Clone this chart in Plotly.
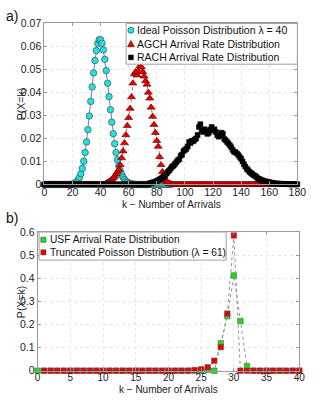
import plotly.graph_objects as go

# ---------------- data ----------------
# Panel a)
poisson40_k = list(range(0, 91))
poisson40_p = [0.0] * 20 + [
    0.0002, 0.0004, 0.0007, 0.0012, 0.0019, 0.0031, 0.0047, 0.0070, 0.0101, 0.0139,  # 20-29
    0.0185, 0.0238, 0.0298, 0.0361, 0.0424, 0.0485, 0.0539, 0.0582, 0.0613, 0.0629,  # 30-39
    0.0629, 0.0614, 0.0585, 0.0544, 0.0495, 0.0440, 0.0382, 0.0325, 0.0271, 0.0221,  # 40-49
    0.0177, 0.0139, 0.0107, 0.0081, 0.0060, 0.0043, 0.0031, 0.0022, 0.0015, 0.0010,  # 50-59
    0.0007, 0.0004, 0.0003, 0.0002, 0.0001,                                          # 60-64
] + [0.0] * 26

agch_k = list(range(0, 164))
agch_p = [0.0] * 44 + [
    0.0005, 0.0008, 0.0012, 0.0016, 0.0022, 0.0028,                                  # 44-49
    0.0035, 0.0045, 0.0055, 0.0065, 0.0085, 0.0115, 0.0145, 0.0180, 0.0215, 0.0255,  # 50-59
    0.0290, 0.0330, 0.0380, 0.0440, 0.0480, 0.0490, 0.0475, 0.0490, 0.0515, 0.0510,  # 60-69
    0.0490, 0.0470, 0.0450, 0.0435, 0.0400, 0.0375, 0.0335, 0.0295, 0.0260, 0.0225,  # 70-79
    0.0190, 0.0165, 0.0120, 0.0085, 0.0055, 0.0035, 0.0020, 0.0012, 0.0007, 0.0004,  # 80-89
    0.0002,                                                                          # 90
] + [0.0] * 73

rach_k = list(range(0, 181))
rach_p = [0.0] * 75 + [
    0.0005, 0.0007, 0.0008, 0.0010, 0.0012,                                          # 75-79
    0.0015, 0.0018, 0.0022, 0.0026, 0.0030, 0.0035, 0.0040, 0.0048, 0.0056, 0.0062,  # 80-89
    0.0070, 0.0078, 0.0082, 0.0090, 0.0098, 0.0105, 0.0110, 0.0125, 0.0130, 0.0145,  # 90-99
    0.0150, 0.0155, 0.0165, 0.0185, 0.0180, 0.0190, 0.0188, 0.0195, 0.0200, 0.0215,  # 100-109
    0.0250, 0.0262, 0.0235, 0.0228, 0.0240, 0.0232, 0.0220, 0.0225, 0.0238, 0.0250,  # 110-119
    0.0235, 0.0240, 0.0228, 0.0215, 0.0208, 0.0215, 0.0225, 0.0220, 0.0198, 0.0192,  # 120-129
    0.0185, 0.0178, 0.0170, 0.0162, 0.0150, 0.0142, 0.0140, 0.0135, 0.0128, 0.0120,  # 130-139
    0.0112, 0.0100, 0.0088, 0.0078, 0.0068, 0.0062, 0.0055, 0.0050, 0.0045, 0.0040,  # 140-149
    0.0037, 0.0032, 0.0026, 0.0024, 0.0020, 0.0018, 0.0016, 0.0014, 0.0012, 0.0011,  # 150-159
    0.0010, 0.0008, 0.0007, 0.0005, 0.0005, 0.0004, 0.0004, 0.0003, 0.0003, 0.0003,  # 160-169
    0.0002, 0.0002, 0.0002, 0.0002, 0.0001, 0.0001, 0.0001, 0.0001, 0.0001, 0.0001,  # 170-179
    0.0001,                                                                          # 180
]

# Panel b)
usf_k = list(range(0, 41))
usf_p = [0.0] * 26 + [0.004, 0.0, 0.119, 0.236, 0.412, 0.215, 0.020] + [0.0] * 8

trunc_k = list(range(1, 41))
trunc_p = [0.0] * 23 + [0.003, 0.006, 0.015, 0.043, 0.102, 0.247, 0.585] + [0.0] * 10

names_top = ["Ideal Poisson Distribution λ = 40",
             "AGCH Arrival Rate Distribution",
             "RACH Arrival Rate Distribution"]
names_bot = ["USF Arrival Rate Distribution",
             "Truncated Poisson Distribution (λ = 61)"]

top_xticks = list(range(0, 181, 20))
top_yticks = [0, 0.01, 0.02, 0.03, 0.04, 0.05, 0.06, 0.07]
top_yticklabels = ["0", "0.01", "0.02", "0.03", "0.04", "0.05", "0.06", "0.07"]
bot_xticks = list(range(0, 41, 5))
bot_yticks = [0, 0.1, 0.2, 0.3, 0.4, 0.5, 0.6]
bot_yticklabels = ["0", "0.1", "0.2", "0.3", "0.4", "0.5", "0.6"]

# ---------------- styling / layout ----------------
W, H = 315, 400
FONT = "Liberation Sans, Arial, Helvetica, sans-serif"
CYAN = "#1fe3e3"
RED = "#e60000"
GREEN = "#14e014"


def px(x):
    return x / W


def py(y):
    return 1 - y / H


fig = go.Figure()

fig.add_trace(go.Scatter(
    x=poisson40_k, y=poisson40_p, mode="lines+markers", name=names_top[0],
    line=dict(color="#808080", width=1),
    marker=dict(symbol="circle", size=6.5, color=CYAN, line=dict(color="#4a4a4a", width=0.7)),
    cliponaxis=False, showlegend=False, xaxis="x", yaxis="y"))
fig.add_trace(go.Scatter(
    x=agch_k, y=agch_p, mode="lines+markers", name=names_top[1],
    line=dict(color="#808080", width=1, dash="dot"),
    marker=dict(symbol="triangle-up", size=7, color=RED, line=dict(color="#5a0000", width=0.6)),
    cliponaxis=False, showlegend=False, xaxis="x", yaxis="y"))
fig.add_trace(go.Scatter(
    x=rach_k, y=rach_p, mode="lines+markers", name=names_top[2],
    line=dict(color="#808080", width=1, dash="dot"),
    marker=dict(symbol="square", size=5, color="#000000", line=dict(color="#000000", width=0.5)),
    cliponaxis=False, showlegend=False, xaxis="x", yaxis="y"))

fig.add_trace(go.Scatter(
    x=usf_k, y=usf_p, mode="lines+markers", name=names_bot[0],
    line=dict(color="#909090", width=1, dash="dot"),
    marker=dict(symbol="square", size=5.5, color=GREEN, line=dict(color="#606060", width=0.6)),
    cliponaxis=False, showlegend=False, xaxis="x2", yaxis="y2"))
fig.add_trace(go.Scatter(
    x=trunc_k, y=trunc_p, mode="lines+markers", name=names_bot[1],
    line=dict(color="#909090", width=1, dash="dot"),
    marker=dict(symbol="square", size=5.5, color=RED, line=dict(color="#606060", width=0.6)),
    cliponaxis=False, showlegend=False, xaxis="x2", yaxis="y2"))

axis_common = dict(
    showline=True, linecolor="#9a9a9a", linewidth=1, mirror="ticks",
    ticks="inside", ticklen=3, tickcolor="#9a9a9a",
    showgrid=True, gridcolor="#e6e6e6", griddash="dot", gridwidth=1,
    zeroline=False,
)
tf = dict(family=FONT, size=10.5, color="#222222")
tf_small = dict(family=FONT, size=10, color="#222222")

fig.update_layout(
    width=W, height=H, margin=dict(l=0, r=0, t=0, b=0),
    paper_bgcolor="white", plot_bgcolor="white",
    font=dict(family=FONT, size=10.5, color="#222222"),
    xaxis=dict(domain=[px(43), px(306)], range=[0, 180], tickvals=top_xticks,
               anchor="y", ticklabelstandoff=-2, tickfont=tf, **axis_common),
    yaxis=dict(domain=[py(184), py(18)], range=[0, 0.07], tickvals=top_yticks,
               ticktext=top_yticklabels, anchor="x", tickfont=tf, **axis_common),
    xaxis2=dict(domain=[px(36), px(308)], range=[0, 40], tickvals=bot_xticks,
                anchor="y2", ticklabelstandoff=-3, tickfont=tf_small, **axis_common),
    yaxis2=dict(domain=[py(376), py(233)], range=[0, 0.6], tickvals=bot_yticks,
                ticktext=bot_yticklabels, anchor="x2", tickfont=tf, **axis_common),
)

shapes = []
annotations = []

# panel labels
annotations.append(dict(text="a)", x=px(1), y=py(10), xref="paper", yref="paper",
                        xanchor="left", yanchor="middle", showarrow=False,
                        font=dict(family=FONT, size=14, color="#111111")))
annotations.append(dict(text="b)", x=px(1), y=py(219), xref="paper", yref="paper",
                        xanchor="left", yanchor="middle", showarrow=False,
                        font=dict(family=FONT, size=14, color="#111111")))

# axis titles
for (xc, yc) in [(175, 204.5), (172, 395)]:
    annotations.append(dict(text="k − Number of Arrivals", x=px(xc), y=py(yc),
                            xref="paper", yref="paper", xanchor="center", yanchor="middle",
                            showarrow=False, font=dict(family=FONT, size=10, color="#222222")))
for (xc, yc) in [(19, 101), (19, 305)]:
    annotations.append(dict(text="P(X=k)", x=px(xc), y=py(yc), textangle=-90,
                            xref="paper", yref="paper", xanchor="center", yanchor="middle",
                            showarrow=False, font=dict(family=FONT, size=10.5, color="#222222")))

# ---- legend a) ----
shapes.append(dict(type="rect", xref="paper", yref="paper", x0=px(128), x1=px(306),
                   y0=py(60), y1=py(18), line=dict(color="#a0a0a0", width=1),
                   fillcolor="white", layer="above"))
mx = 133
rows_top = [25, 39, 53]
shapes.append(dict(type="circle", xref="paper", yref="paper",
                   x0=px(mx - 3.2), x1=px(mx + 3.2), y0=py(rows_top[0] + 3.2), y1=py(rows_top[0] - 3.2),
                   fillcolor=CYAN, line=dict(color="#4a4a4a", width=0.7), layer="above"))
ty = rows_top[1]
shapes.append(dict(type="path", xref="paper", yref="paper",
                   path=f"M {px(mx - 3.5)},{py(ty + 3)} L {px(mx + 3.5)},{py(ty + 3)} L {px(mx)},{py(ty - 3.5)} Z",
                   fillcolor=RED, line=dict(color="#5a0000", width=0.6), layer="above"))
sy = rows_top[2]
shapes.append(dict(type="rect", xref="paper", yref="paper",
                   x0=px(mx - 2.5), x1=px(mx + 2.5), y0=py(sy + 2.5), y1=py(sy - 2.5),
                   fillcolor="#000000", line=dict(color="#000000", width=0.5), layer="above"))
for name, ry in zip(names_top, rows_top):
    annotations.append(dict(text=name, x=px(137.5), y=py(ry), xref="paper", yref="paper",
                            xanchor="left", yanchor="middle", showarrow=False,
                            font=dict(family=FONT, size=10.5, color="#111111")))

# ---- legend b) ----
shapes.append(dict(type="rect", xref="paper", yref="paper", x0=px(37.5), x1=px(232),
                   y0=py(262), y1=py(233), line=dict(color="#a0a0a0", width=1),
                   fillcolor="white", layer="above"))
bx = 42
rows_bot = [241, 254]
for col, ry in zip([GREEN, RED], rows_bot):
    shapes.append(dict(type="rect", xref="paper", yref="paper",
                       x0=px(bx - 2.7), x1=px(bx + 2.7), y0=py(ry + 2.7), y1=py(ry - 2.7),
                       fillcolor=col, line=dict(color="#606060", width=0.6), layer="above"))
for name, ry in zip(names_bot, rows_bot):
    annotations.append(dict(text=name, x=px(46.5), y=py(ry), xref="paper", yref="paper",
                            xanchor="left", yanchor="middle", showarrow=False,
                            font=dict(family=FONT, size=10.2, color="#111111")))

fig.update_layout(shapes=shapes, annotations=annotations)

fig.write_html("out.html", config={"displayModeBar": False},
               post_script="document.documentElement.style.margin='0';document.body.style.margin='0';")
